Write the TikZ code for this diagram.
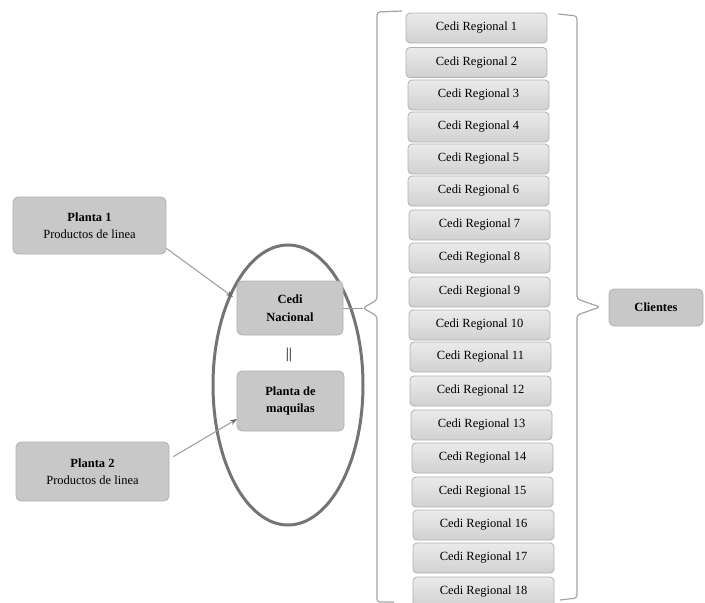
\documentclass[tikz,border=0pt]{standalone}
\usepackage{fontspec}
\setmainfont{Liberation Serif}
\usetikzlibrary{arrows.meta,shapes.geometric}
\definecolor{boxfill}{HTML}{C8C8C8}
\definecolor{boxedge}{HTML}{B0B0B0}
\definecolor{linegray}{HTML}{9A9A9A}
\definecolor{ringgray}{HTML}{747474}
\tikzset{
  plainbox/.style={draw=boxedge, fill=boxfill, rounded corners=5pt, line width=0.8pt,
    align=center, font=\fontsize{12.5}{17.5}\selectfont, inner sep=0pt},
  regbox/.style={draw=boxedge, top color=gray!16, bottom color=gray!36, rounded corners=4pt,
    line width=0.8pt, minimum width=141pt, minimum height=30pt, inner sep=0pt,
    font=\fontsize{12.5}{14}\selectfont},
  conn/.style={draw=linegray, line width=1pt},
  brace/.style={draw=linegray!90, line width=1.2pt, rounded corners=3pt},
  arrowconn/.style={conn, -{Stealth[length=7pt,width=5pt,color=gray!80!black]}}
}
\begin{document}
\begin{tikzpicture}[x=1pt,y=-1pt]
\useasboundingbox (0,0) rectangle (705,603);

% Planta boxes
\node[plainbox, minimum width=153pt, minimum height=57pt] (p1) at (89.5,225.5)
  {\textbf{Planta 1}\\Productos de linea};
\node[plainbox, minimum width=153pt, minimum height=59pt] (p2) at (92.5,471.5)
  {\textbf{Planta 2}\\Productos de linea};

% Ellipse group
\node[draw=ringgray, line width=3pt, ellipse, minimum width=150pt, minimum height=280pt, inner sep=0pt] (ring) at (288,385) {};
\node[plainbox, minimum width=106pt, minimum height=54pt] (cn) at (290,308)
  {\textbf{Cedi}\\\textbf{Nacional}};
\node[plainbox, minimum width=107pt, minimum height=60pt] (pm) at (290.5,401)
  {\textbf{Planta de}\\\textbf{maquilas}};
\node[font=\fontsize{15}{16}\selectfont] (eq) at (289,355) {||};

% arrows into the ring
\coordinate (a1) at (233,297);
\coordinate (a2) at (237,419);
\draw[arrowconn] (p1.south east) ++(0,-6) -- (a1);
\draw[arrowconn] ([xshift=4pt,yshift=-15pt]p2.north east) -- (a2);

% Regional boxes
\foreach \i/\x/\yt in {1/406/13, 2/406/47.5, 3/408/80, 4/408/112, 5/408/144, 6/408/176,
  7/409/210, 8/409/243, 9/409/277, 10/409/310, 11/410/342, 12/410/376,
  13/411/410, 14/412/443, 15/412/477, 16/413/510, 17/413/543, 18/413/577}{
  \node[regbox] (r\i) at (\x+70.5,\yt+15) {Cedi Regional \i};
}

% Clientes
\node[plainbox, minimum width=94pt, minimum height=37pt] (cl) at (656,307.5) {\textbf{Clientes}};

% left brace
\coordinate (lt) at (363,308);
\draw[conn] (cn.east) -- (lt);
\draw[brace] (402,11) -- (377,12) -- (377,300) -- (lt) -- (377,316) -- (377,602) -- (394,602);

% right brace
\coordinate (rt) at (600,307);
\draw[brace] (558,14) -- (577,16) -- (577,299) -- (rt) -- (577,315) -- (577,598) -- (560,600);
\end{tikzpicture}
\end{document}
